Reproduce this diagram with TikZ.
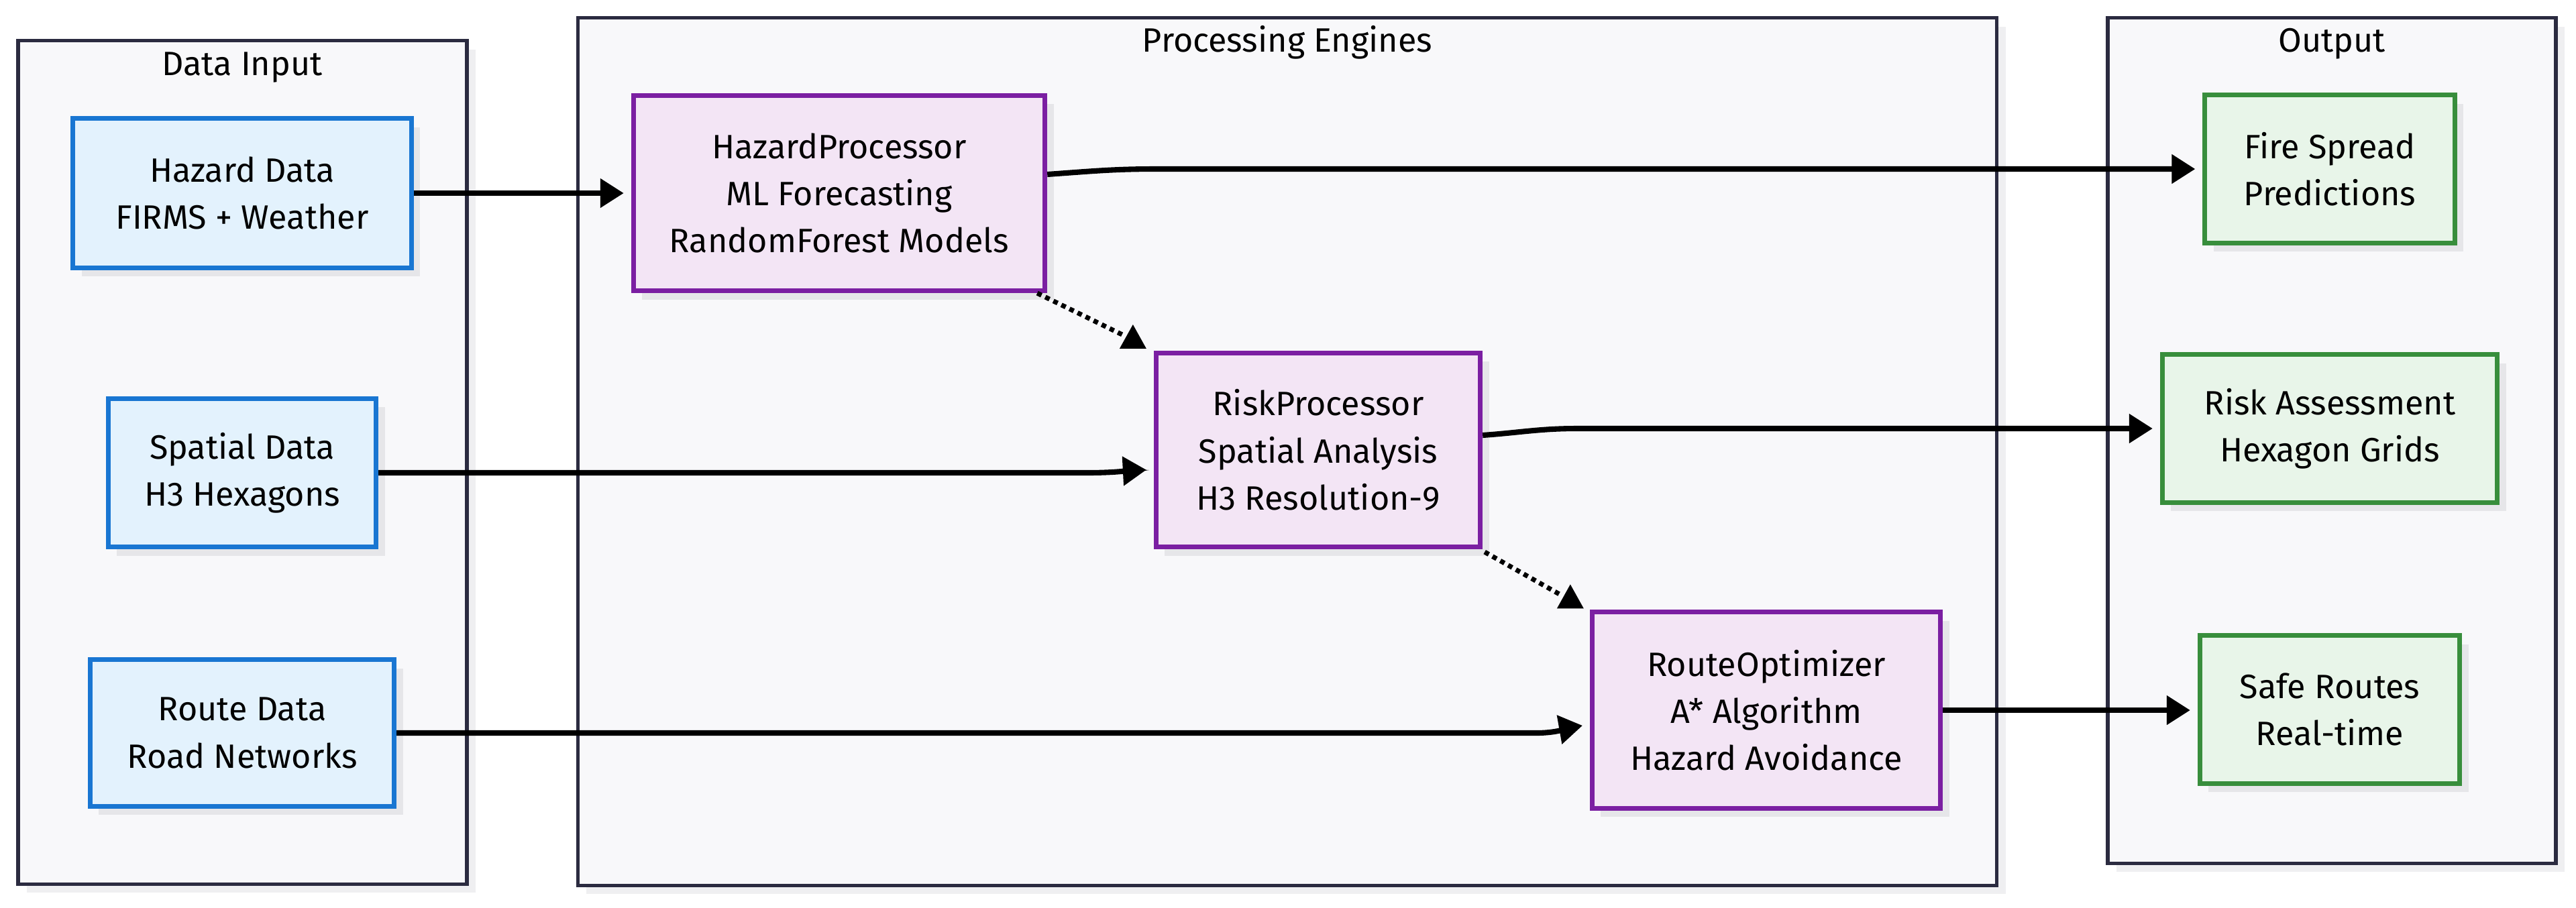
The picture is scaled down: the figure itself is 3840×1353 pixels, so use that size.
\documentclass[tikz,border=0pt]{standalone}
\usepackage{fontspec}
\setmainfont{Fira Sans}
\usetikzlibrary{arrows.meta,shadows}
\definecolor{clfill}{HTML}{F8F8FA}
\definecolor{cldraw}{HTML}{2B2B40}
\definecolor{shd}{HTML}{E6E6E9}
\definecolor{clshd}{HTML}{EFEFF1}
\definecolor{bfill}{HTML}{E3F2FD}
\definecolor{bdraw}{HTML}{1976D2}
\definecolor{pfill}{HTML}{F3E5F5}
\definecolor{pdraw}{HTML}{7B1FA2}
\definecolor{gfill}{HTML}{E8F5E9}
\definecolor{gdraw}{HTML}{388E3C}
\begin{document}
\begin{tikzpicture}[x=0.01cm,y=-0.01cm,
  txt/.style={font=\fontsize{14.3}{20}\selectfont},
  cluster/.style={draw=cldraw,fill=clfill,line width=1.6pt,inner sep=0pt,
    drop shadow={shadow xshift=0.13cm,shadow yshift=-0.13cm,fill=clshd,opacity=1}},
  ctitle/.style={txt,anchor=base,inner sep=0pt},
  box/.style={txt,line width=2pt,inner sep=0pt,align=center,
    drop shadow={shadow xshift=0.13cm,shadow yshift=-0.13cm,fill=shd,opacity=1}},
  inbox/.style={box,draw=bdraw,fill=bfill},
  procbox/.style={box,draw=pdraw,fill=pfill},
  outbox/.style={box,draw=gdraw,fill=gfill},
  edge/.style={line width=2.3pt,shorten >=0.11cm,-{Triangle[length=0.35cm,width=0.42cm]}},
  dotline/.style={line width=2pt,dash pattern=on 2pt off 1.8pt},
  uptip/.style={fill=black}]
\useasboundingbox (0,0) rectangle (3840,1353);
\fill[white] (0,0) rectangle (3840,1353);
% clusters
\node[cluster,minimum width=6.69cm,minimum height=12.57cm] (cin) at (361.5,689.5) {};
\node[cluster,minimum width=21.14cm,minimum height=12.93cm] (cproc) at (1919,673.5) {};
\node[cluster,minimum width=6.68cm,minimum height=12.60cm] (cout) at (3476,657) {};
\node[ctitle] (tin) at (361,112) {Data Input};
\node[ctitle] (tproc) at (1919,77) {Processing Engines};
\node[ctitle] (tout) at (3476,77) {Output};
% input nodes
\node[inbox,minimum width=5.04cm,minimum height=2.22cm] (hazd) at (361,288) {Hazard Data\\FIRMS + Weather};
\node[inbox,minimum width=3.99cm,minimum height=2.21cm] (spat) at (361,705) {Spatial Data\\H3 Hexagons};
\node[inbox,minimum width=4.53cm,minimum height=2.18cm] (route) at (361,1093) {Route Data\\Road Networks};
% processing nodes
\node[procbox,minimum width=6.13cm,minimum height=2.91cm] (hproc) at (1251,288) {HazardProcessor\\ML Forecasting\\RandomForest Models};
\node[procbox,minimum width=4.83cm,minimum height=2.89cm] (rproc) at (1965,671) {RiskProcessor\\Spatial Analysis\\H3 Resolution-9};
\node[procbox,minimum width=5.19cm,minimum height=2.92cm] (ropt) at (2633,1059) {RouteOptimizer\\A* Algorithm\\Hazard Avoidance};
% output nodes
\node[outbox,minimum width=3.72cm,minimum height=2.20cm] (fire) at (3473,252) {Fire Spread\\Predictions};
\node[outbox,minimum width=4.99cm,minimum height=2.20cm] (risk) at (3473,639) {Risk Assessment\\Hexagon Grids};
\node[outbox,minimum width=3.87cm,minimum height=2.20cm] (safe) at (3473,1058) {Safe Routes\\Real-time};
% edges
\draw[edge] (hazd.east) -- (hproc.west);
\draw[edge] (spat.east) -- ([xshift=-1.0cm]rproc.west |- spat.east)
   to[out=0,in=183] ([yshift=-0.29cm]rproc.west);
\draw[edge] (route.east) -- ([xshift=-0.8cm]ropt.west |- route.east)
   to[out=0,in=190] ([yshift=-0.21cm]ropt.west);
\draw[edge] ([yshift=0.28cm]hproc.east) to[out=4,in=180] ([xshift=1.6cm]hproc.east |- fire.west) -- (fire.west);
\draw[edge] ([yshift=0.22cm]rproc.east) to[out=4,in=180] ([xshift=1.4cm]rproc.east |- risk.west) -- (risk.west);
\draw[edge] (ropt.east) -- (ropt.east -| safe.west);
% dotted connectors with upward tips
\coordinate (a1) at ([shift={(-31,-39)}]rproc.north west);
\draw[dotline] ([xshift=-0.15cm]hproc.south east) -- ([shift={(-12,17)}]a1);
\fill[uptip] (a1) -- ++(-20,36) -- ++(40,0) -- cycle;
\coordinate (a2) at ([shift={(-29,-38)}]ropt.north west);
\draw[dotline] ([shift={(3,4)}]rproc.south east) -- ([shift={(-12,17)}]a2);
\fill[uptip] (a2) -- ++(-20,36) -- ++(40,0) -- cycle;
\end{tikzpicture}
\end{document}
